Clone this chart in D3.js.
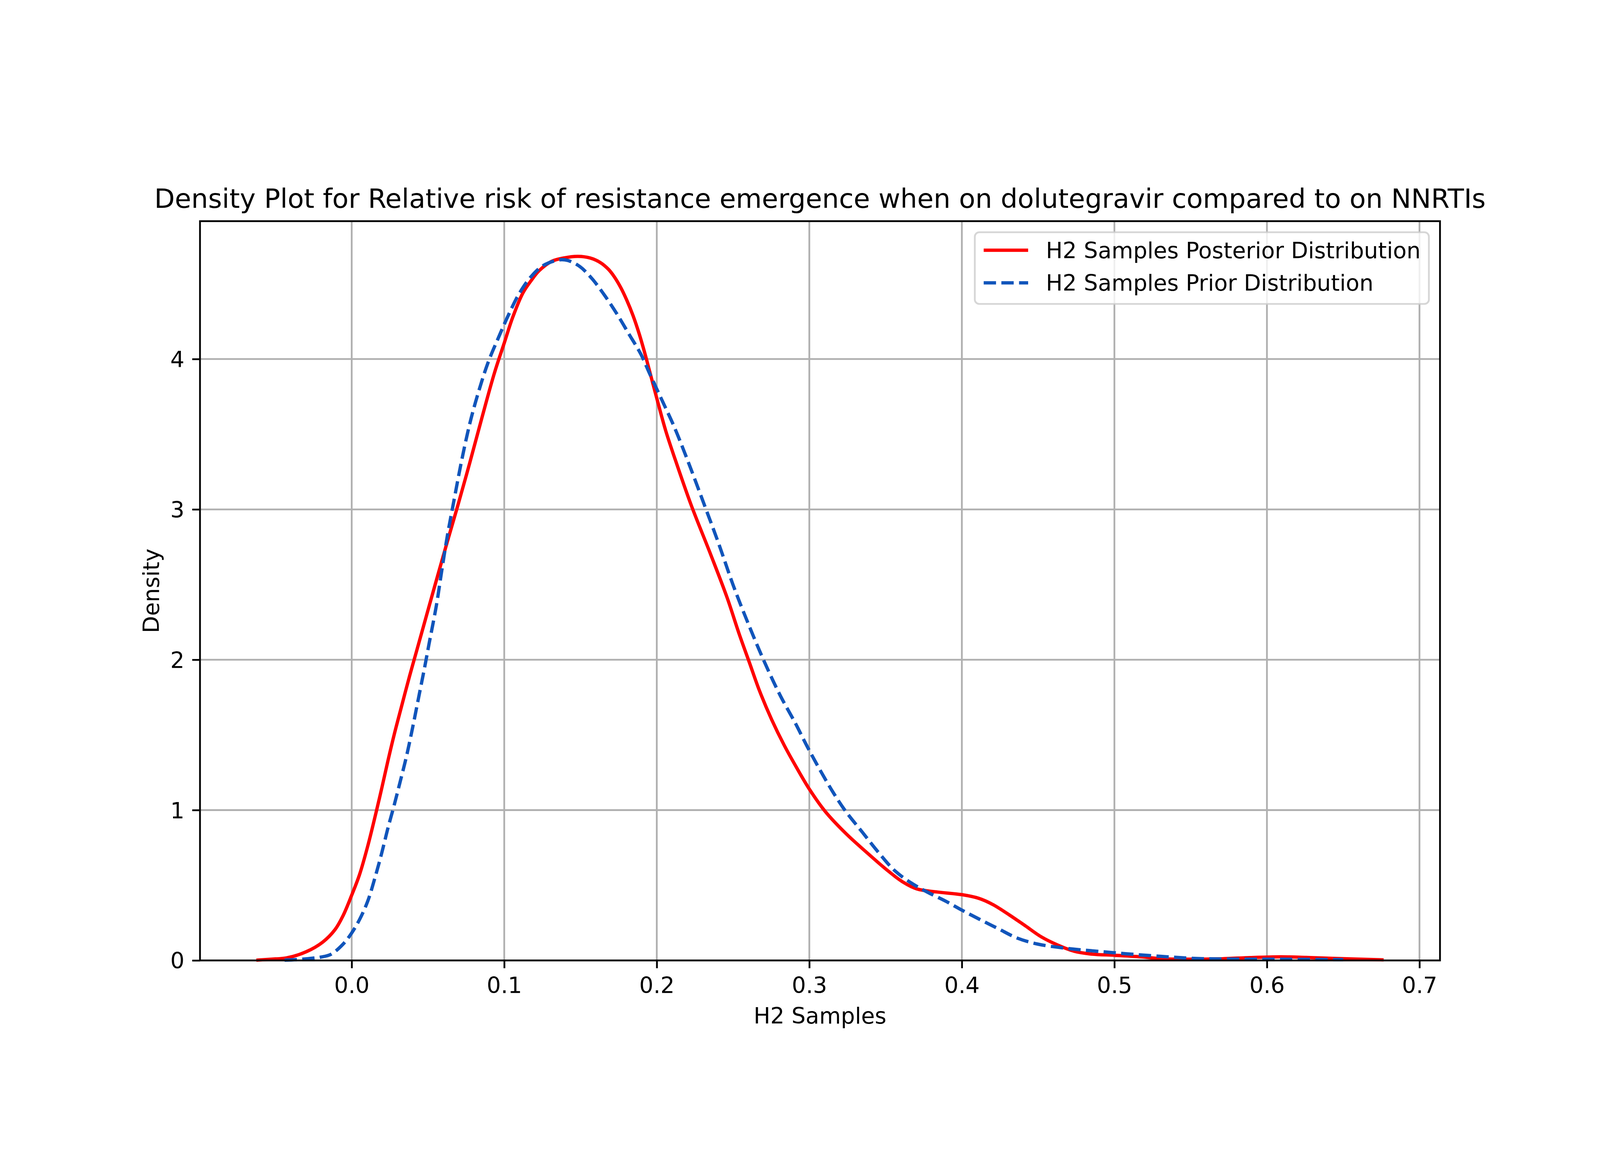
<!DOCTYPE html>
<html>
<head>
<meta charset="utf-8">
<script src="https://cdn.jsdelivr.net/npm/d3@7"></script>
<style>
  html, body { margin: 0; padding: 0; background: #fff; overflow: hidden; }
  svg { display: block; width: 100vw; height: 100vh; }
  text { font-family: "DejaVu Sans", sans-serif; }
</style>
</head>
<body>
<svg id="chart" viewBox="0 0 5000 3000" preserveAspectRatio="xMidYMid meet"></svg>
<script>
// values (x = H2 samples, y = density)
let posteriorX = [-0.0625, -0.050, -0.043, -0.030, -0.019, -0.011, -0.0056, 0.000, 0.0051, 0.0105,
  0.0158, 0.0198, 0.0238, 0.0278, 0.0319, 0.0379, 0.0426, 0.0525, 0.0627,
  0.0694, 0.0774, 0.0854, 0.0935, 0.1002, 0.1055, 0.1122, 0.1175, 0.1229, 0.1309,
  0.1389, 0.1483, 0.1563, 0.163, 0.1683, 0.1723, 0.1764, 0.1804, 0.1844, 0.1884,
  0.1924, 0.1958, 0.2005, 0.2058, 0.2118, 0.2225, 0.2353, 0.246, 0.254, 0.2607,
  0.2674, 0.2754, 0.2836, 0.2918, 0.3003, 0.3105, 0.3239, 0.3372, 0.3506, 0.3613,
  0.3707, 0.384, 0.4003, 0.4108, 0.4201, 0.4308, 0.4415, 0.4522, 0.4629, 0.4736,
  0.4843, 0.5006, 0.5171, 0.5321, 0.5505, 0.5706, 0.5889, 0.609, 0.6257, 0.6458, 0.6765];
let posteriorY = [0.002, 0.010, 0.016, 0.057, 0.122, 0.204, 0.299, 0.434, 0.57, 0.76,
  0.977, 1.15, 1.33, 1.50, 1.66, 1.89, 2.06, 2.42, 2.786,
  3.02, 3.31, 3.611, 3.905, 4.113, 4.276, 4.439, 4.52, 4.588, 4.649,
  4.672, 4.683, 4.672, 4.642, 4.597, 4.545, 4.475, 4.39, 4.29, 4.17,
  4.03, 3.90, 3.72, 3.525, 3.34, 3.03, 2.701, 2.416, 2.172, 1.982,
  1.792, 1.60, 1.43, 1.28, 1.135, 0.99, 0.845, 0.722, 0.604, 0.522,
  0.475, 0.455, 0.437, 0.414, 0.373, 0.305, 0.231, 0.156, 0.102, 0.061,
  0.043, 0.034, 0.024, 0.011, 0.008, 0.011, 0.019, 0.024, 0.020, 0.013, 0.004];

let priorX = [-0.044, -0.035, -0.0247, -0.0203, -0.0136, -0.0056, 0.000, 0.0051, 0.0105, 0.0158,
  0.0198, 0.0238, 0.0278, 0.0319, 0.0359, 0.0399, 0.0439, 0.0479, 0.0506, 0.0555,
  0.059, 0.0627, 0.0667, 0.0721, 0.0774, 0.0828, 0.0894, 0.0961, 0.1015, 0.1095,
  0.1175, 0.1256, 0.1362, 0.1416, 0.1496, 0.1576, 0.1657, 0.1737, 0.1817, 0.1897,
  0.1951, 0.2031, 0.2111, 0.2195, 0.2313, 0.2407, 0.25, 0.2594, 0.2701, 0.2808,
  0.291, 0.2985, 0.3065, 0.3159, 0.3239, 0.3346, 0.3453, 0.356, 0.3667, 0.3773,
  0.3894, 0.4003, 0.4121, 0.4241, 0.4362, 0.4496, 0.4642, 0.4776, 0.4934, 0.5071,
  0.5305, 0.5539, 0.5789, 0.609, 0.65];
let priorY = [0.002, 0.006, 0.016, 0.022, 0.041, 0.109, 0.183, 0.271, 0.394, 0.57,
  0.719, 0.882, 1.031, 1.194, 1.357, 1.547, 1.75, 1.954, 2.10, 2.36,
  2.59, 2.824, 3.041, 3.326, 3.57, 3.77, 3.977, 4.14, 4.265, 4.43,
  4.547, 4.622, 4.66, 4.656, 4.615, 4.534, 4.425, 4.303, 4.167, 4.03,
  3.908, 3.733, 3.557, 3.345, 3.027, 2.769, 2.498, 2.254, 1.996, 1.765,
  1.575, 1.425, 1.276, 1.113, 0.991, 0.855, 0.719, 0.597, 0.516, 0.455,
  0.394, 0.333, 0.271, 0.21, 0.149, 0.109, 0.086, 0.071, 0.057, 0.045,
  0.027, 0.013, 0.009, 0.008, 0.005];

let xTicks = [0.0, 0.1, 0.2, 0.3, 0.4, 0.5, 0.6, 0.7];
let yTicks = [0, 1, 2, 3, 4];
let seriesNames = ["H2 Samples Posterior Distribution", "H2 Samples Prior Distribution"];

let titleText = "Density Plot for Relative risk of resistance emergence when on dolutegravir compared to on NNRTIs";

// matplotlib sizes at 500 dpi (1pt = 500/72 px)
let pt = 500 / 72;
let axLeft = 625, axRight = 4500, axTop = 360, axBottom = 2670;

let series = [
  {name: seriesNames[0], pts: posteriorX.map((x, i) => [x, posteriorY[i]]), color: "#ff0000", dash: null},
  {name: seriesNames[1], pts: priorX.map((x, i) => [x, priorY[i]]), color: "#1155bb", dash: [3.7 * 1.5 * pt, 1.6 * 1.5 * pt]}
];

let allX = posteriorX.concat(priorX);
let xmin = d3.min(allX), xmax = d3.max(allX);
let pad = (xmax - xmin) * 0.05;
let x = d3.scaleLinear().domain([xmin - pad, xmax + pad]).range([axLeft, axRight]);
let ymax = d3.max(posteriorY.concat(priorY));
let y = d3.scaleLinear().domain([0, ymax * 1.05]).range([axBottom, axTop]);

let svg = d3.select("#chart");
svg.append("rect").attr("width", 5000).attr("height", 3000).attr("fill", "#fff");

// grid
let grid = svg.append("g");
grid.selectAll(".gx").data(xTicks).enter().append("line")
  .attr("x1", d => x(d)).attr("x2", d => x(d))
  .attr("y1", axTop).attr("y2", axBottom)
  .attr("stroke", "#b0b0b0").attr("stroke-width", 0.8 * pt);
grid.selectAll(".gy").data(yTicks).enter().append("line")
  .attr("x1", axLeft).attr("x2", axRight)
  .attr("y1", d => y(d)).attr("y2", d => y(d))
  .attr("stroke", "#b0b0b0").attr("stroke-width", 0.8 * pt);

// curves
let line = d3.line().x(d => x(d[0])).y(d => y(d[1])).curve(d3.curveCatmullRom.alpha(0.5));
svg.append("g").selectAll("path").data(series).enter().append("path")
  .attr("d", d => line(d.pts))
  .attr("fill", "none")
  .attr("stroke", d => d.color)
  .attr("stroke-width", 1.5 * pt)
  .attr("stroke-dasharray", d => d.dash ? d.dash.join(",") : null)
  .attr("stroke-linejoin", "round");

// axes
let xAxis = d3.axisBottom(x).tickValues(xTicks).tickFormat(d3.format(".1f"))
  .tickSize(3.5 * pt).tickPadding(3.5 * pt);
let yAxis = d3.axisLeft(y).tickValues(yTicks).tickFormat(d3.format("d"))
  .tickSize(3.5 * pt).tickPadding(3.5 * pt);

function styleAxis(g) {
  g.select(".domain").remove();
  g.selectAll(".tick line").attr("stroke", "#000").attr("stroke-width", 0.8 * pt);
  g.selectAll(".tick text").attr("fill", "#000")
    .style("font-family", "DejaVu Sans")
    .style("font-size", (10 * pt) + "px");
}

svg.append("g").attr("transform", `translate(0,${axBottom})`).call(xAxis).call(styleAxis)
  .selectAll(".tick text").attr("dy", null).attr("y", 2772 - axBottom);
svg.append("g").attr("transform", `translate(${axLeft},0)`).call(yAxis).call(styleAxis)
  .selectAll(".tick text").attr("dy", "0.36em");

// spines
svg.append("rect")
  .attr("x", axLeft).attr("y", axTop)
  .attr("width", axRight - axLeft).attr("height", axBottom - axTop)
  .attr("fill", "none").attr("stroke", "#000").attr("stroke-width", 0.8 * pt);

// labels
svg.append("text").attr("x", (axLeft + axRight) / 2).attr("y", 318)
  .attr("text-anchor", "middle").style("font-size", (12 * pt) + "px")
  .text(titleText);
svg.append("text").attr("x", (axLeft + axRight) / 2).attr("y", 2867)
  .attr("text-anchor", "middle").style("font-size", (10 * pt) + "px")
  .text("H2 Samples");
svg.append("text")
  .attr("transform", `translate(497,${(axTop + axBottom) / 2}) rotate(-90)`)
  .attr("text-anchor", "middle").style("font-size", (10 * pt) + "px")
  .text("Density");

// legend (upper right)
let fs = 10 * pt;
let legW = 4463 - 3044, legH = 224;
let lx = axRight - 0.5 * fs - legW, ly = axTop + 0.5 * fs;
let leg = svg.append("g").attr("transform", `translate(${lx},${ly})`);
leg.append("rect")
  .attr("width", legW).attr("height", legH)
  .attr("rx", 0.2 * fs).attr("ry", 0.2 * fs)
  .attr("fill", "#fff").attr("fill-opacity", 0.8)
  .attr("stroke", "#cccccc").attr("stroke-opacity", 0.8)
  .attr("stroke-width", 0.8 * pt);
let rows = leg.selectAll(".row").data(series).enter().append("g")
  .attr("transform", (d, i) => `translate(0,${56 + i * 102})`);
rows.append("line")
  .attr("x1", 0.4 * fs).attr("x2", 0.4 * fs + 2 * fs)
  .attr("y1", 0).attr("y2", 0)
  .attr("stroke", d => d.color)
  .attr("stroke-width", 1.5 * pt)
  .attr("stroke-dasharray", d => d.dash ? d.dash.join(",") : null);
rows.append("text")
  .attr("x", 0.4 * fs + 2 * fs + 0.8 * fs)
  .attr("dy", "0.36em")
  .style("font-size", fs + "px")
  .text(d => d.name);
</script>
</body>
</html>
